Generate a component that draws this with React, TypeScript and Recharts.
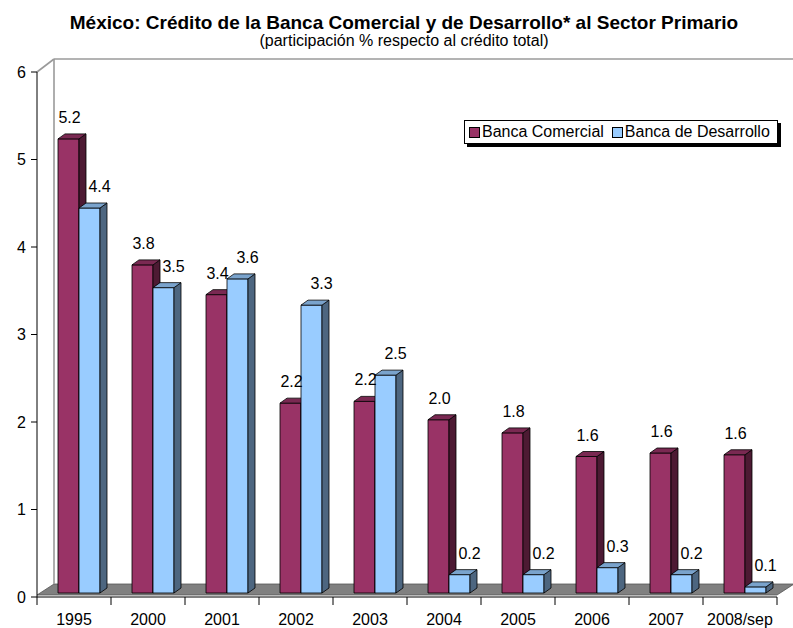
import React from 'react'
import { BarChart, Bar, XAxis, YAxis, Legend, LabelList } from 'recharts'

const years = ['1995', '2000', '2001', '2002', '2003', '2004', '2005', '2006', '2007', '2008/sep']
const comercial = [5.19, 3.75, 3.41, 2.17, 2.19, 1.98, 1.83, 1.56, 1.6, 1.58]
const desarrollo = [4.4, 3.49, 3.59, 3.29, 2.49, 0.21, 0.21, 0.29, 0.21, 0.07]
const yTicks = [0, 1, 2, 3, 4, 5, 6]

const data = years.map((y, i) => ({ year: y, comercial: comercial[i], desarrollo: desarrollo[i] }))

const W = 793
const H = 628
const FONT = "'Liberation Sans', Arial, sans-serif"
const FS = 16
const margin = { top: 72, right: 16, left: 0, bottom: 0 }
const Y_W = 37
const X_H = 31
// plot box, derived from the margins above
const PL = margin.left + Y_W
const PR = W - margin.right
const PT = margin.top
const PB = H - margin.bottom - X_H
// back wall depth
const WX = 17
const WY = -13
// bars are pushed a bit into the depth, and have their own thickness
const DX = 5
const DY = -4
const BX = 7
const BY = -5

const makeBox = (front: string, side: string, top: string) => (p: any) => {
  const x = Number(p.x) + DX
  const y = Number(p.y) + DY
  const w = Number(p.width)
  const h = Number(p.height)
  if (!(w > 0) || !(h >= 0)) return <g />
  return (
    <g stroke="#000" strokeWidth={0.8} strokeLinejoin="round">
      <rect x={x} y={y} width={w} height={h} fill={front} />
      <polygon
        points={`${x + w},${y} ${x + w + BX},${y + BY} ${x + w + BX},${y + h + BY} ${x + w},${y + h}`}
        fill={side}
      />
      <polygon
        points={`${x},${y} ${x + BX},${y + BY} ${x + w + BX},${y + BY} ${x + w},${y}`}
        fill={top}
      />
    </g>
  )
}

const makeValue = (shift: number) => (p: any) => {
  const x = Number(p.x) + Number(p.width) / 2 + DX + shift
  const y = Number(p.y) + DY - 16
  return (
    <text x={x} y={y} textAnchor="middle" fontSize={FS} fontFamily={FONT} fill="#000">
      {Number(p.value).toFixed(1)}
    </text>
  )
}

const CatTick = (p: any) => {
  const { x, y, payload, index, visibleTicksCount } = p
  const half = payload && payload.offset ? payload.offset : (PR - PL) / years.length / 2
  return (
    <g>
      <line x1={x - half} y1={y - 8} x2={x - half} y2={y} stroke="#000" />
      {index === visibleTicksCount - 1 && (
        <line x1={x + half} y1={y - 8} x2={x + half} y2={y} stroke="#000" />
      )}
      <text x={x} y={y + 20} textAnchor="middle" fontSize={FS} fontFamily={FONT} fill="#000">
        {payload.value}
      </text>
    </g>
  )
}

const LegendBox = (p: any) => {
  const items = p.payload || []
  return (
    <div
      style={{
        display: 'inline-flex',
        alignItems: 'center',
        border: '1px solid #000',
        background: '#fff',
        boxShadow: '3px 3px 0 #000',
        padding: '2px 7px 2px 4px',
        fontFamily: FONT,
        fontSize: FS,
        whiteSpace: 'nowrap',
        lineHeight: '18px',
      }}
    >
      {items.map((it: any, i: number) => (
        <span key={i} style={{ display: 'inline-flex', alignItems: 'center', marginLeft: i ? 8 : 0 }}>
          <span
            style={{
              display: 'inline-block',
              width: 9,
              height: 9,
              border: '1px solid #000',
              background: it.color,
              marginRight: 2,
            }}
          />
          {it.value}
        </span>
      ))}
    </div>
  )
}

export default function App() {
  return (
    <div style={{ position: 'relative', width: W, height: H, background: '#fff' }}>
      <style>{'body{margin:0}'}</style>
      <svg width={W} height={H} style={{ position: 'absolute', left: 0, top: 0 }}>
        <text x={404} y={29} textAnchor="middle" fontSize={19} fontWeight="bold" fontFamily={FONT}>
          México: Crédito de la Banca Comercial y de Desarrollo* al Sector Primario
        </text>
        <text x={404} y={46} textAnchor="middle" fontSize={FS} fontFamily={FONT}>
          (participación % respecto al crédito total)
        </text>
        <polygon
          points={`${PL},${PB - 2} ${PL + WX},${PB + WY} ${PR + WX},${PB + WY} ${PR},${PB - 2}`}
          fill="#808080"
          stroke="#555"
          strokeWidth={0.8}
        />
        <g stroke="#9a9a9a" strokeWidth={1.6} fill="none">
          <line x1={PL} y1={PT} x2={PL + WX} y2={PT + WY} />
          <line x1={PL + WX} y1={PT + WY} x2={PL + WX} y2={PB + WY} />
          <line x1={PL + WX} y1={PT + WY} x2={PR + WX} y2={PT + WY} />
        </g>
      </svg>
      <div style={{ position: 'absolute', left: 0, top: 0 }}>
        <BarChart width={W} height={H} data={data} margin={margin} barGap={0} barSize={21}>
          <XAxis
            dataKey="year"
            height={X_H}
            axisLine={{ stroke: '#000' }}
            tickLine={{ stroke: 'none' }}
            tickSize={8}
            tickMargin={0}
            tick={<CatTick />}
            interval={0}
          />
          <YAxis
            width={Y_W}
            domain={[0, 6]}
            ticks={yTicks}
            axisLine={{ stroke: '#000' }}
            tickLine={{ stroke: '#000' }}
            tickSize={6}
            tickMargin={5}
            tick={{ fill: '#000', fontSize: FS, fontFamily: FONT }}
          />
          <Legend
            layout="horizontal"
            verticalAlign="middle"
            align="center"
            content={<LegendBox />}
            wrapperStyle={{ top: 120, left: 464, width: 'auto' }}
          />
          <Bar
            dataKey="comercial"
            name="Banca Comercial"
            fill="#993366"
            isAnimationActive={false}
            shape={makeBox('#993366', '#4d1a33', '#7a2952')}
          >
            <LabelList dataKey="comercial" content={makeValue(1)} />
          </Bar>
          <Bar
            dataKey="desarrollo"
            name="Banca de Desarrollo"
            fill="#99ccff"
            isAnimationActive={false}
            shape={makeBox('#99ccff', '#4d6680', '#7aa3cc')}
          >
            <LabelList dataKey="desarrollo" content={makeValue(10)} />
          </Bar>
        </BarChart>
      </div>
    </div>
  )
}
